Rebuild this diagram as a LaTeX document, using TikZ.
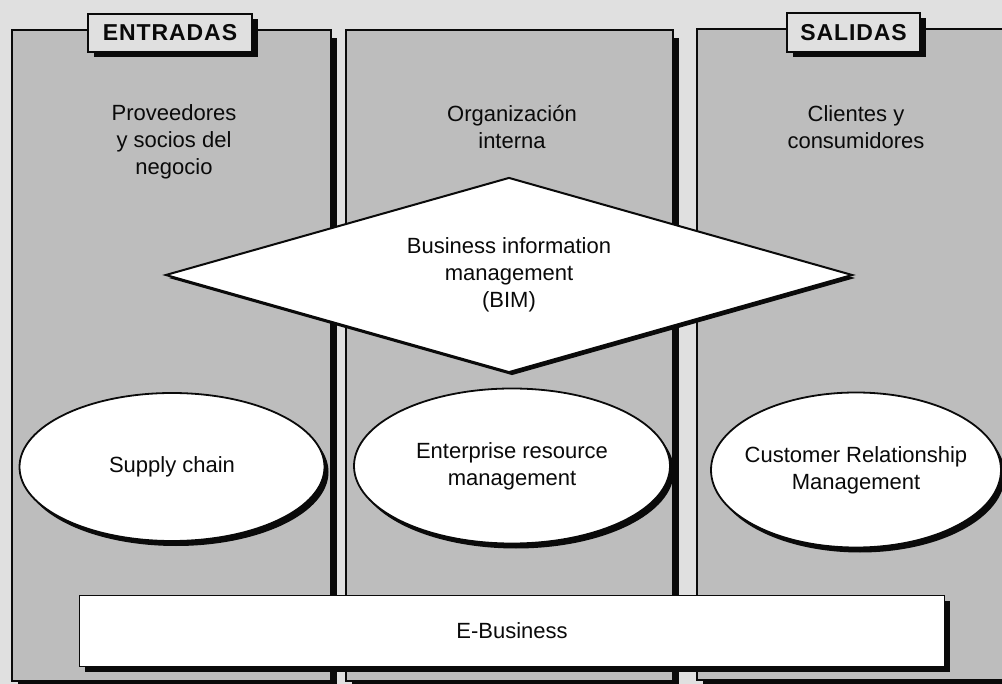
\documentclass[tikz,border=0pt]{standalone}
\usepackage{fontspec}
\setmainfont{Liberation Sans}
\usetikzlibrary{shapes.geometric,shadows}
\definecolor{ESBack}{gray}{0.88}
\definecolor{ESPanel}{gray}{0.74}
\definecolor{ESInk}{gray}{0.04}
\tikzset{
  colpanel/.style={draw=ESInk,line width=2pt,fill=ESPanel,inner sep=0pt,
    drop shadow={shadow xshift=6pt,shadow yshift=-8pt,fill=ESInk,opacity=1}},
  tagbox/.style={draw=ESInk,line width=2.2pt,fill=ESBack,inner sep=0pt,
    text=ESInk,font=\fontsize{23}{27}\selectfont\bfseries\addfontfeatures{LetterSpace=4},
    drop shadow={shadow xshift=6pt,shadow yshift=-5pt,fill=ESInk,opacity=1}},
  coltext/.style={text=ESInk,font=\fontsize{22}{27}\selectfont,align=center},
  bubble/.style={ellipse,draw=ESInk,line width=1.8pt,fill=white,inner sep=0pt,
    text=ESInk,font=\fontsize{22}{27}\selectfont,align=center,
    drop shadow={shadow xshift=4pt,shadow yshift=-5pt,fill=ESInk,opacity=1}},
  bim/.style={diamond,shape aspect=3.52,draw=ESInk,line width=2pt,fill=white,inner sep=0pt,
    text=ESInk,font=\fontsize{22}{27}\selectfont,align=center,
    drop shadow={shadow xshift=3pt,shadow yshift=-3pt,fill=ESInk,opacity=1}},
  bar/.style={draw=ESInk,line width=1.6pt,fill=white,inner sep=0pt,
    text=ESInk,font=\fontsize{22}{26}\selectfont,
    drop shadow={shadow xshift=5pt,shadow yshift=-5pt,fill=ESInk,opacity=1}},
}

\begin{document}
\begin{tikzpicture}[x=1pt,y=-1pt]
  \useasboundingbox[fill=ESBack] (0,0) rectangle (1002,684);
  \clip (0,0) rectangle (1002,684);

  % three columns
  \node[colpanel,minimum width=319pt,minimum height=651pt] (colIn)  at (171.5,355.5) {};
  \node[colpanel,minimum width=327pt,minimum height=651pt] (colOrg) at (509.5,355.5) {};
  \node[colpanel,minimum width=318pt,minimum height=651pt] (colOut) at (856,354.5) {};

  % column tags
  \node[tagbox,minimum width=164pt,minimum height=38pt] (tagIn)  at (170,33) {ENTRADAS};
  \node[tagbox,minimum width=133pt,minimum height=39pt] (tagOut) at (853.5,32.5) {SALIDAS};

  % column headings
  \node[coltext] (txtIn)  at (174,142) {Proveedores\\y socios del\\negocio};
  \node[coltext] (txtOrg) at (512,127) {Organización\\interna};
  \node[coltext] (txtOut) at (856,127) {Clientes y\\consumidores};

  % BIM diamond
  \node[bim,minimum width=687pt,minimum height=195pt] (bim) at (509,275)
    {Business information\\management\\(BIM)};

  % systems
  \node[bubble,minimum width=305pt,minimum height=148pt] (scm) at (172,467) {Supply chain};
  \node[bubble,minimum width=316pt,minimum height=155pt] (erm) at (512,466)
    {Enterprise resource\\management};
  \node[bubble,inner xsep=-10pt,minimum width=290pt,minimum height=155pt] (crm) at (856,470)
    {Customer Relationship\\Management};

  % e-business base
  \node[bar,minimum width=865pt,minimum height=71pt] (ebiz) at (512,631) {E-Business};
\end{tikzpicture}
\end{document}
